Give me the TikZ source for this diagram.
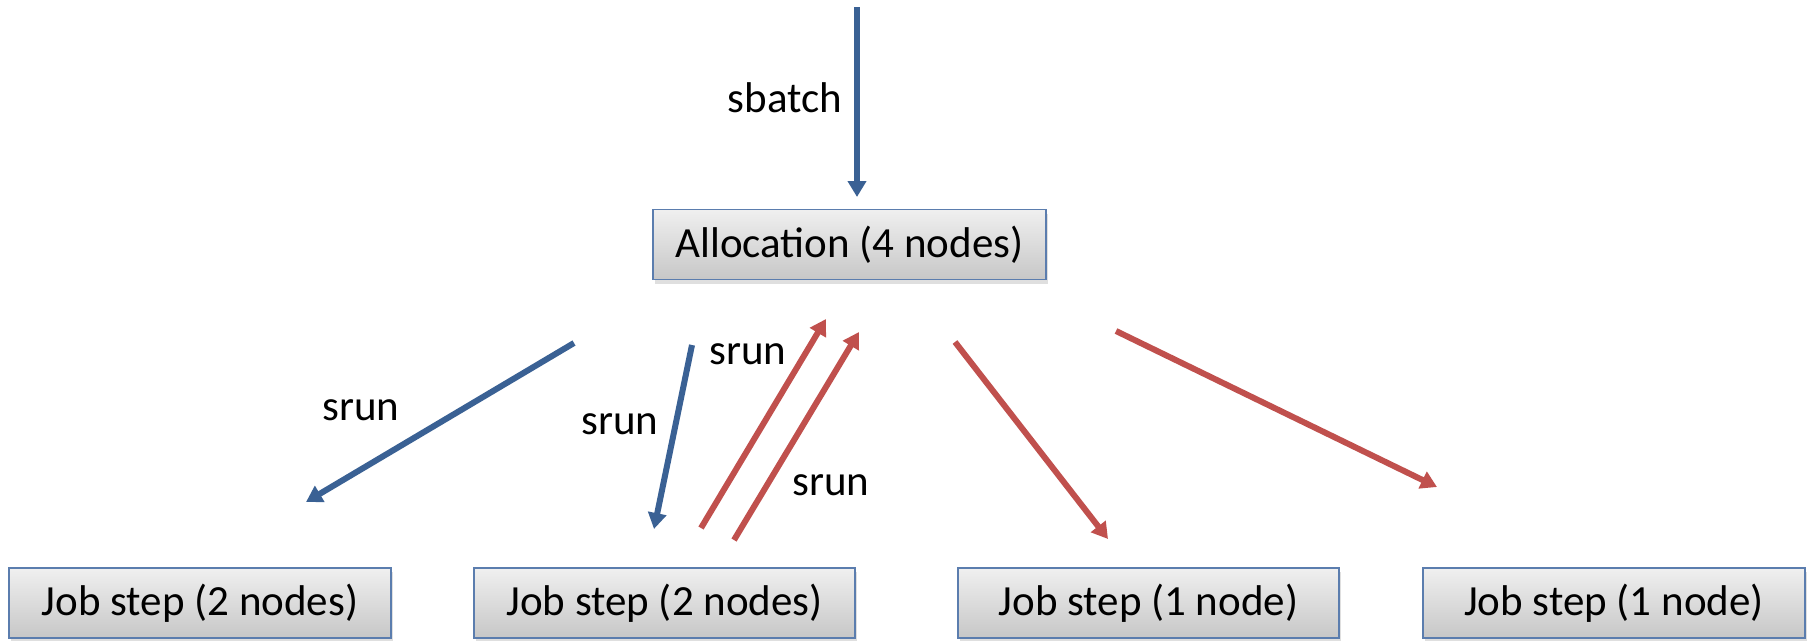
\documentclass[tikz,border=0pt]{standalone}
\usepackage{fontspec}
\setmainfont{Carlito}
\usetikzlibrary{arrows.meta,shadows}
\definecolor{ablue}{HTML}{3A6194}
\definecolor{ared}{HTML}{C0504D}
\definecolor{bord}{HTML}{5B7DAE}
\begin{document}
\begin{tikzpicture}[x=1pt,y=-1pt,
  box/.style={draw=bord, line width=1.2pt, top color=black!6, bottom color=black!22,
    minimum height=70pt, inner sep=0pt, font=\fontsize{43}{50}\selectfont,
    drop shadow={shadow xshift=2pt, shadow yshift=-4pt, opacity=0.25}},
  lbl/.style={font=\fontsize{43}{50}\selectfont, inner sep=0pt},
  barrow/.style={draw=ablue, line width=6pt, -{Triangle[width=18pt,length=16pt]}},
  rarrow/.style={draw=ared, line width=6pt, -{Triangle[width=18pt,length=16pt]}}]
\useasboundingbox (0,0) rectangle (1810,640);
% boxes
\node[box, minimum width=393pt] (alloc) at (849.5,244.5) {Allocation (4 nodes)};
\node[box, minimum width=382pt] (j1) at (200,603) {Job step (2 nodes)};
\node[box, minimum width=381pt] (j2) at (664.5,603) {Job step (2 nodes)};
\node[box, minimum width=381pt] (j3) at (1148.5,603) {Job step (1 node)};
\node[box, minimum width=382pt] (j4) at (1614,603) {Job step (1 node)};
% arrow end points
\coordinate (s0) at (857,7);
\coordinate (s1) at (857,197);
\coordinate (b1a) at (574,343);
\coordinate (b1b) at (306,502);
\coordinate (b2a) at (692,345);
\coordinate (b2b) at (654,529);
\coordinate (r1a) at (701,528);
\coordinate (r1b) at (826,319);
\coordinate (r2a) at (734,540);
\coordinate (r2b) at (859,332);
\coordinate (r3a) at (955,342);
\coordinate (r3b) at (1108,539);
\coordinate (r4a) at (1116,331);
\coordinate (r4b) at (1437,487);
% arrows
\draw[barrow] (s0) -- (s1);
\draw[barrow] (b1a) -- (b1b);
\draw[barrow] (b2a) -- (b2b);
\draw[rarrow] (r1a) -- (r1b);
\draw[rarrow] (r2a) -- (r2b);
\draw[rarrow] (r3a) -- (r3b);
\draw[rarrow] (r4a) -- (r4b);
% labels
\node[lbl] (lsb) at (785,98) {sbatch};
\node[lbl] (l1) at (361,410) {srun};
\node[lbl] (l2) at (620,424) {srun};
\node[lbl] (l3) at (748,354) {srun};
\node[lbl] (l4) at (831,485) {srun};
\end{tikzpicture}
\end{document}
